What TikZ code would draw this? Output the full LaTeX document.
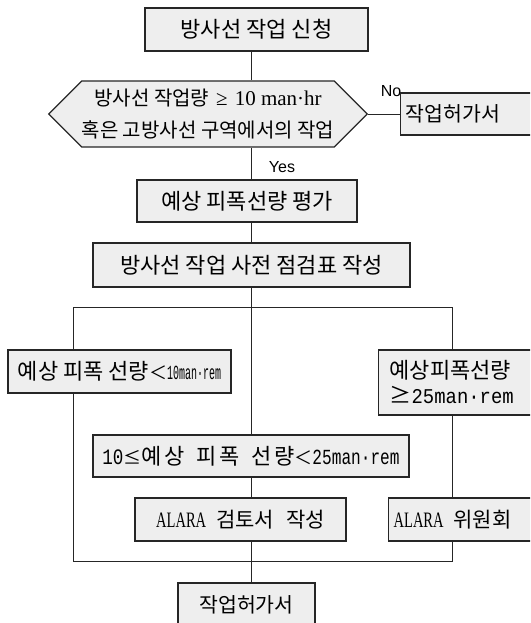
\documentclass[tikz,border=0pt]{standalone}
\usepackage{graphicx}
\usepackage{fontspec}
\setmainfont{Noto Sans CJK KR}
\newfontfamily\serifl{Liberation Serif}
\newfontfamily\monol{Liberation Mono}
\newfontfamily\sansl{Liberation Sans}
\usetikzlibrary{shapes.symbols}
\newcommand{\alaratext}{\scalebox{0.66}[1]{\serifl\fontsize{22}{24}\selectfont ALARA}}
\newcommand{\fs}[1]{\fontsize{#1}{#1}\selectfont}
\newcommand{\gp}{\hspace{2.5pt}}
\begin{document}
\begin{tikzpicture}[x=1pt,y=-1pt,
  box/.style={draw=black!85, line width=1.3pt, fill=gray!13, inner sep=0pt, minimum height=43pt},
  conn/.style={draw=black!85, line width=0.9pt},
  lbl/.style={font=\sansl\fontsize{16}{18}\selectfont, inner sep=0pt}]
\useasboundingbox (0,0) rectangle (530,623);
\clip (0,0) rectangle (530,623);

\coordinate (cx) at (251,0);
\coordinate (tl) at (73,307);
\coordinate (tr) at (452,307);
\coordinate (bl) at (73,561);
\coordinate (br) at (452,561);

\node[box, minimum width=223pt, font=\fs{22}] (b1) at (256.5,29.5) {방사선 작업 신청};

\node[box, signal, signal to=east and west, minimum width=316pt, minimum height=66pt, align=center,
  font={\fontsize{20}{32}\selectfont}] (hex) at (208,114)
  {방사선 작업량\hspace{7pt}{\serifl\fontsize{21}{32}\selectfont ≥\hspace{7pt}10 man·hr}\\혹은 고방사선 구역에서의 작업};

\node[lbl] (no) at (391,91) {No};

\node[box, anchor=west, minimum height=42pt, inner xsep=5pt, text width=140pt, align=left,
  font=\fs{20.5}] (permit1) at (400,114) {작업허가서};

\node[lbl] (yes) at (282,167) {Yes};

\node[box, minimum width=220pt, minimum height=42pt, font=\fs{22}] (b3) at (247,201) {예상 피폭선량 평가};

\node[box, minimum width=317pt, minimum height=44pt, font=\fs{22}] (b4) at (251.5,265) {방사선 작업 사전 점검표 작성};

\node[box, minimum width=223pt, font=\fs{22}] (left) at (119.5,371.5)
  {예상 피폭 선량{\fs{18}＜}\scalebox{0.5}[1]{\monol\fs{20}10man·rem}};

\node[box, anchor=west, minimum height=65pt, inner xsep=11pt, text width=150pt, align=left,
  font={\fontsize{22}{25}\selectfont}] (right) at (378,382.5)
  {예상피폭선량\\≥\scalebox{0.9}[1]{\monol\fontsize{21}{25}\selectfont 25man·rem}};

\node[box, minimum width=316pt, minimum height=42pt, font=\fs{22}] (mid) at (251,456)
  {\scalebox{0.8}[1]{\monol\fs{22}10}{\fs{18}≤}예\gp 상\hspace{12pt}피\gp 폭\hspace{12pt}선\gp 량{\fs{18}＜}\scalebox{0.75}[1]{\monol\fs{21.5}25man·rem}};

\node[box, minimum width=211pt, font=\fs{21}] (alara1) at (240.5,519.5)
  {\alaratext\hspace{10pt}검토서\hspace{12pt}작성};

\node[box, anchor=west, inner xsep=5pt, text width=150pt, align=left, font=\fs{21}] (alara2) at (388,519.5)
  {\alaratext\hspace{10pt}위원회};

\node[box, minimum width=137pt, minimum height=44pt, font=\fs{20.5}] (final) at (246.5,605) {작업허가서};

\draw[conn] (b1.south -| cx) -- (hex.north -| cx);
\draw[conn] (hex.east) -- (permit1.west);
\draw[conn] (hex.south -| cx) -- (b3.north -| cx);
\draw[conn] (b3.south -| cx) -- (b4.north -| cx);
\draw[conn] (b4.south -| cx) -- (mid.north -| cx);
\draw[conn] (tl) -- (tr);
\draw[conn] (tl) -- (left.north -| tl);
\draw[conn] (tr) -- (right.north -| tr);
\draw[conn] (left.south -| tl) -- (bl) -- (br) -- (alara2.south -| br);
\draw[conn] (right.south -| tr) -- (alara2.north -| tr);
\draw[conn] (mid.south -| cx) -- (alara1.north -| cx);
\draw[conn] (alara1.south -| cx) -- (final.north -| cx);
\end{tikzpicture}
\end{document}
